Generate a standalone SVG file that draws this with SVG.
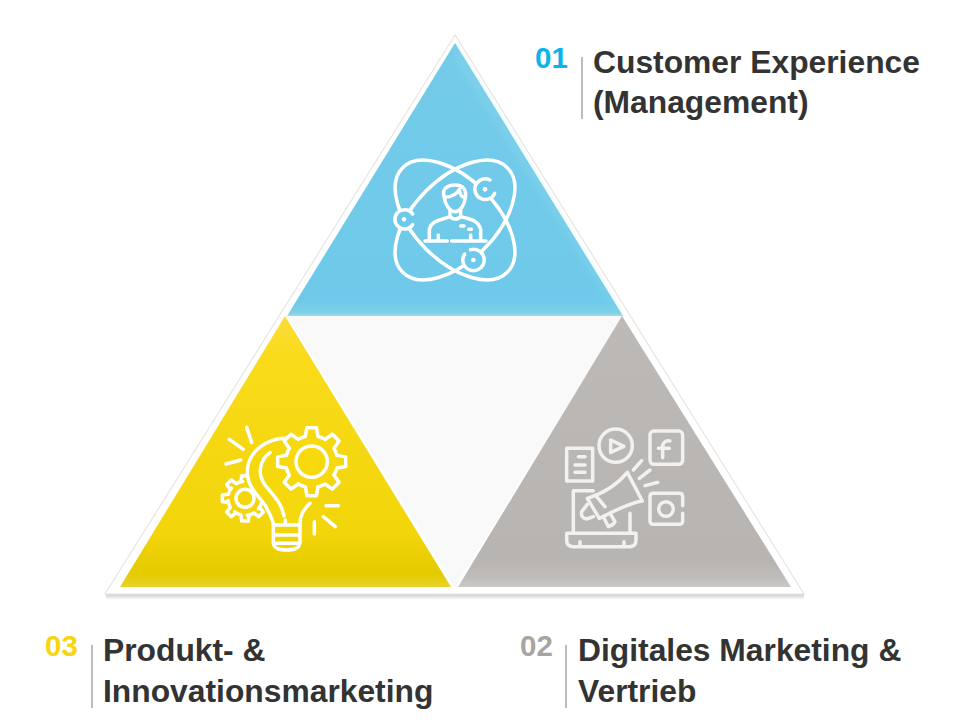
<svg xmlns="http://www.w3.org/2000/svg" width="960" height="720" viewBox="0 0 960 720">
<style>
.ic{fill:none;stroke:#fff;stroke-width:10.5;stroke-linecap:round;stroke-linejoin:round}
.t{font-family:"Liberation Sans",Arial,sans-serif;font-weight:700;font-size:31.8px;fill:#333}
.n{font-family:"Liberation Sans",Arial,sans-serif;font-weight:700;font-size:29.5px}
.sep{stroke:#a6a6a6;stroke-width:1.5}
</style>
<defs>
<linearGradient id="gb" x1="0" y1="0" x2="0" y2="1"><stop offset="0" stop-color="#74cbe9"/><stop offset=".95" stop-color="#6ec9ea"/><stop offset=".99" stop-color="#7fd2e6"/><stop offset="1" stop-color="#a5dfe0"/></linearGradient>
<linearGradient id="gy" x1="0" y1="0" x2="0" y2="1"><stop offset="0" stop-color="#fbdc3c"/><stop offset=".15" stop-color="#f9db1a"/><stop offset=".8" stop-color="#f2d50a"/><stop offset=".95" stop-color="#e5ca00"/><stop offset="1" stop-color="#e9d32a"/></linearGradient>
<linearGradient id="gg" x1="0" y1="0" x2="0" y2="1"><stop offset="0" stop-color="#bcb9b7"/><stop offset=".9" stop-color="#b7b4b2"/><stop offset=".96" stop-color="#bebbb9"/><stop offset="1" stop-color="#cbc9c8"/></linearGradient>
<linearGradient id="sh" x1="0" y1="0" x2="0" y2="1"><stop offset="0" stop-color="#c4c4c4"/><stop offset="1" stop-color="#fff"/></linearGradient>
<filter id="bl" x="-10%" y="-10%" width="120%" height="120%"><feGaussianBlur stdDeviation="2.5"/></filter>
<path id="tooth" d="M-18.9 -75.7L-14.3 -102H14.3L18.9 -75.7A78 78 0 0 1 40.2 -66.9"/>
<path id="tooth2" d="M-12 -50L-10 -68H10L12 -50A51 51 0 0 1 31 -40.5"/>
</defs>
<rect width="960" height="720" fill="#fff"/>
<g id="frame">
<rect x="106" y="593" width="698" height="7" fill="url(#sh)"/>
<polygon points="455,35 105,594 804,594" fill="#fff" stroke="#e8e5e4" stroke-width="1.2"/>
<polygon points="287,316 623,316 455,587" fill="#f9f9f9"/>
</g>
<g id="node-blue">
<polygon points="455,43 287,316 623,316" fill="url(#gb)"/>
<polygon points="455,43 623,316 610,305 455,60" fill="#8fd9ea" opacity=".35" filter="url(#bl)"/>
<g transform="translate(370,140) scale(.33333)">
<g class="ic">
<ellipse cx="255" cy="240" rx="222" ry="123" transform="rotate(45 255 240)"/>
<ellipse cx="255" cy="240" rx="222" ry="123" transform="rotate(-45 255 240)"/>
</g>
<g fill="#6ec9ea"><circle cx="345" cy="148" r="32"/><circle cx="100" cy="238" r="30"/><circle cx="310" cy="360" r="33"/></g>
<g class="ic">
<path d="M360 120A31 31 0 1 0 374 160"/><path d="M128 222A29 29 0 1 0 128 254"/><path d="M284 342A32 32 0 1 0 302 329"/>
<path d="M222 170C215 145 235 135 255 135C280 135 292 150 285 178C283 195 270 215 255 215C240 215 225 195 222 170Z"/>
<path d="M225 172C245 170 262 162 268 148C270 165 278 172 285 172"/>
<path d="M240 212V228C246 240 265 240 272 228V212"/>
<path d="M240 230C215 240 185 240 178 268V300"/><path d="M272 230C295 235 325 240 332 268V300"/>
<path d="M165 303H232M245 303H348M205 300V285M302 300V285M272 258H282M296 268H304"/>
</g>
<g fill="#fff"><circle cx="345" cy="148" r="7"/><circle cx="102" cy="238" r="7"/><circle cx="310" cy="360" r="7"/></g>
</g>
</g>
<g id="node-yellow">
<polygon points="285,316 120,587 451,587" fill="url(#gy)"/>
<g transform="translate(210,410) scale(.33333)">
<g class="ic">
<g transform="translate(105,265)"><use href="#tooth2"/><use href="#tooth2" transform="rotate(45)"/><use href="#tooth2" transform="rotate(90)"/><use href="#tooth2" transform="rotate(135)"/><use href="#tooth2" transform="rotate(180)"/><use href="#tooth2" transform="rotate(225)"/><use href="#tooth2" transform="rotate(270)"/><use href="#tooth2" transform="rotate(315)"/><circle r="27"/></g>
<path d="M228 85C170 85 112 125 112 185C112 235 150 260 168 290C180 315 190 330 190 345H270C270 320 275 305 300 280" fill="#f6d80e"/>
<path d="M180 128C150 150 140 190 165 225C190 255 215 280 222 318M226 330V342"/>
<path d="M190 345V395C190 415 205 420 230 420C255 420 270 415 270 395V345M190 375H270M190 400H270"/>
<circle cx="305" cy="155" r="80" fill="#f7d90e" stroke="none"/>
<g transform="translate(305,155)"><use href="#tooth"/><use href="#tooth" transform="rotate(45)"/><use href="#tooth" transform="rotate(90)"/><use href="#tooth" transform="rotate(135)"/><use href="#tooth" transform="rotate(180)"/><use href="#tooth" transform="rotate(225)"/><use href="#tooth" transform="rotate(270)"/><use href="#tooth" transform="rotate(315)"/><circle r="47"/></g>
<path d="M110 52L125 97M58 88L100 118M48 162L92 150M348 287H385M340 320L376 350M313 335V372"/>
</g>
</g>
</g>
<g id="node-grey">
<polygon points="622,316 458,587 791,587" fill="url(#gg)"/>
<g transform="translate(550,415) scale(.33333)">
<g class="ic" style="stroke:#f2f1f0">
<rect x="50" y="100" width="78" height="98"/><path d="M85 125H105M75 150H105M75 172H105"/>
<circle cx="197" cy="92" r="50"/><path d="M182 75L222 94L182 112Z"/>
<rect x="300" y="48" width="98" height="100" rx="12"/><path d="M360 78C345 75 338 85 338 95V128M325 100H358"/>
<path d="M250 165L275 137M268 190L300 165M285 212L323 202"/>
<path d="M398 295V318Q398 328 388 328H310Q300 328 300 318V245Q300 235 310 235H388Q398 235 398 245V272"/><circle cx="348" cy="282" r="22"/>
<path d="M130 227H70V352M240 295V352M50 355H258V375Q258 395 238 395H70Q50 395 50 375ZM90 380V390M222 380V390"/>
<path d="M232 172L277 258C240 262 190 290 148 310L112 250C160 235 205 205 232 172Z" fill="#b8b5b3"/>
<path d="M112 268L95 290Q92 310 110 312L130 305M160 305L175 335Q190 330 195 320L180 295M140 245L165 275"/>
</g>
</g>
</g>
<g id="label-01">
<text class="n" x="535" y="68" fill="#0db4ea">01</text>
<line class="sep" x1="582" y1="57" x2="582" y2="119"/>
<text class="t" x="593" y="73">Customer Experience</text>
<text class="t" x="593" y="113">(Management)</text>
</g>
<g id="label-03">
<text class="n" x="45" y="656" fill="#f5d60f">03</text>
<line class="sep" x1="92" y1="645" x2="92" y2="708"/>
<text class="t" x="103" y="661">Produkt- &amp;</text>
<text class="t" x="103" y="702">Innovationsmarketing</text>
</g>
<g id="label-02">
<text class="n" x="520" y="656" fill="#a8a4a2">02</text>
<line class="sep" x1="566" y1="645" x2="566" y2="708"/>
<text class="t" x="578" y="661">Digitales Marketing &amp;</text>
<text class="t" x="578" y="702">Vertrieb</text>
</g>
</svg>
